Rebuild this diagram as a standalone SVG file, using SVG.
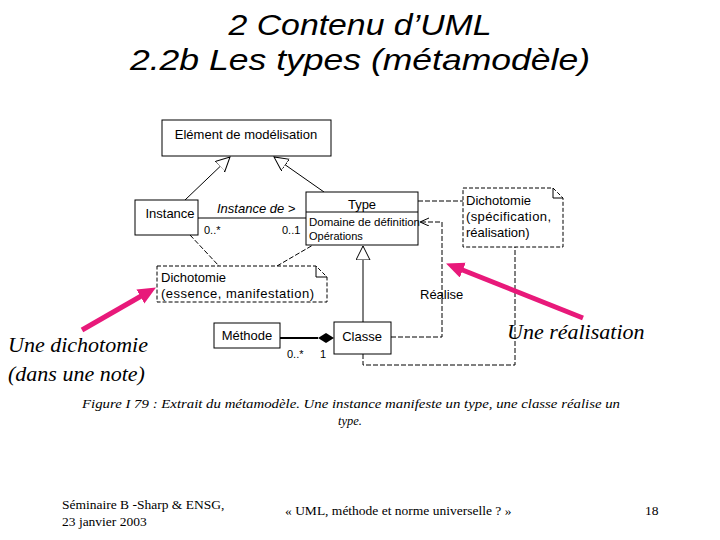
<svg xmlns="http://www.w3.org/2000/svg" width="720" height="540" viewBox="0 0 720 540">
<style>
.t{font-family:"Liberation Sans",Arial,sans-serif;fill:#000}
.s{font-family:"Liberation Serif","Times New Roman",serif;fill:#000}
.box{fill:#fff;stroke:#000;stroke-width:1}
.note{fill:#fff;stroke:#000;stroke-width:1;stroke-dasharray:4 2}
.ln{fill:none;stroke:#000;stroke-width:1}
.dl{fill:none;stroke:#000;stroke-width:1;stroke-dasharray:5 2}
.pk{fill:none;stroke:#E8197A;stroke-width:5}
</style>
<defs>
<marker id="gen" markerWidth="16" markerHeight="18" refX="14" refY="7" orient="auto" markerUnits="userSpaceOnUse">
<path d="M0,0 L14,7 L0,14 Z" fill="#fff" stroke="#000"/>
</marker>
<marker id="open" markerWidth="10" markerHeight="10" refX="9" refY="4" orient="auto" markerUnits="userSpaceOnUse">
<path d="M0,0 L9,4 L0,8" fill="none" stroke="#000"/>
</marker>
<marker id="pink" markerWidth="20" markerHeight="20" refX="3" refY="8" orient="auto" markerUnits="userSpaceOnUse">
<path d="M0,0 L18,8 L0,16 Z" fill="#E8197A"/>
</marker>
</defs>

<text class="t" x="360" y="35" font-size="30" font-style="italic" text-anchor="middle" textLength="263" lengthAdjust="spacingAndGlyphs">2 Contenu d’UML</text>
<text class="t" x="360" y="70" font-size="30" font-style="italic" text-anchor="middle" textLength="460" lengthAdjust="spacingAndGlyphs">2.2b Les types (métamodèle)</text>

<g id="connectors">
<line class="ln" x1="185" y1="200" x2="230" y2="157" marker-end="url(#gen)"/>
<line class="ln" x1="324" y1="192" x2="274" y2="157" marker-end="url(#gen)"/>
<line class="ln" x1="198" y1="218" x2="306" y2="218"/>
<line class="dl" x1="190" y1="235" x2="219" y2="266"/>
<line class="dl" x1="277" y1="266" x2="313" y2="245"/>
<line class="dl" x1="418" y1="201" x2="463" y2="201"/>
<polyline class="dl" points="391,337 442,337 442,222 420,222" marker-end="url(#open)"/>
<polyline class="dl" points="363,354 363,365 515,365 515,247"/>
<line class="ln" x1="363" y1="322" x2="363" y2="246" marker-end="url(#gen)"/>
<line x1="280" y1="338" x2="318" y2="338" stroke="#000" stroke-width="2"/>
<path d="M318,338 L326,333 L334,338 L326,343 Z" fill="#000"/>
</g>

<g id="element"><rect class="box" x="162" y="120" width="169" height="36"/>
<text class="t" x="246" y="139" font-size="13" text-anchor="middle">Elément de modélisation</text></g>

<g id="instance"><rect class="box" x="135" y="200" width="63" height="35"/>
<text class="t" x="170" y="218" font-size="13" text-anchor="middle">Instance</text></g>

<g id="type"><rect class="box" x="306" y="192" width="112" height="53"/>
<line class="ln" x1="306" y1="212" x2="418" y2="212"/>
<text class="t" x="362" y="209" font-size="13" text-anchor="middle">Type</text>
<text class="t" x="309" y="226" font-size="11" textLength="111" lengthAdjust="spacingAndGlyphs">Domaine de définition</text>
<text class="t" x="309" y="240" font-size="11">Opérations</text></g>

<g id="note1"><path class="note" d="M157,266 H316 L327,277 V302 H157 Z"/>
<path class="ln" d="M316,266 V277 H327"/>
<text class="t" x="161" y="282" font-size="13">Dichotomie</text>
<text class="t" x="161" y="298" font-size="13" textLength="153" lengthAdjust="spacing">(essence, manifestation)</text></g>

<g id="note2"><path class="note" d="M463,188 H553 L563,198 V247 H463 Z"/>
<path class="ln" d="M553,188 V198 H563"/>
<text class="t" x="466" y="205" font-size="13">Dichotomie</text>
<text class="t" x="466" y="221" font-size="13" textLength="85" lengthAdjust="spacing">(spécification,</text>
<text class="t" x="466" y="237" font-size="13">réalisation)</text></g>

<g id="methode"><rect class="box" x="214" y="323" width="66" height="25"/>
<text class="t" x="247" y="340" font-size="13" text-anchor="middle">Méthode</text></g>

<g id="classe"><rect class="box" x="334" y="322" width="57" height="32"/>
<text class="t" x="362" y="341" font-size="13" text-anchor="middle">Classe</text></g>

<g id="labels">
<text class="t" x="217" y="213" font-size="13" font-style="italic">Instance de &gt;</text>
<text class="t" x="204" y="234" font-size="11">0..*</text>
<text class="t" x="282" y="234" font-size="11">0..1</text>
<text class="t" x="420" y="299" font-size="13">Réalise</text>
<text class="t" x="287" y="358" font-size="11">0..*</text>
<text class="t" x="320" y="358" font-size="11">1</text>
</g>

<g id="annotations">
<line class="pk" x1="82" y1="330" x2="143" y2="295" marker-end="url(#pink)"/>
<line class="pk" x1="583" y1="318" x2="460" y2="269" marker-end="url(#pink)"/>
<text class="s" x="8" y="352" font-size="22" font-style="italic">Une dichotomie</text>
<text class="s" x="8" y="381" font-size="22" font-style="italic">(dans une note)</text>
<text class="s" x="507" y="339" font-size="22" font-style="italic">Une réalisation</text>
</g>

<text class="s" x="82" y="408" font-size="12.5" font-style="italic" textLength="538" lengthAdjust="spacingAndGlyphs">Figure I 79 : Extrait du métamodèle. Une instance manifeste un type, une classe réalise un</text>
<text class="s" x="350" y="425" font-size="12.5" font-style="italic" text-anchor="middle">type.</text>

<text class="s" x="62" y="509" font-size="13.5">Séminaire B -Sharp &amp; ENSG,</text>
<text class="s" x="62" y="526" font-size="13.5">23 janvier 2003</text>
<text class="s" x="285" y="515" font-size="13.5">« UML, méthode et norme universelle ? »</text>
<text class="s" x="645" y="515" font-size="13.5">18</text>
</svg>
